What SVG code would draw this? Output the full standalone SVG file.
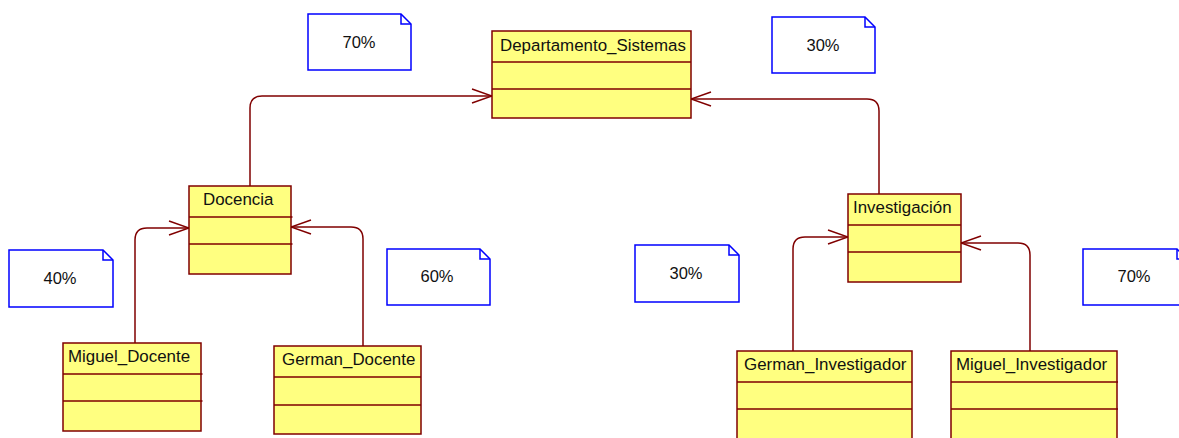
<svg xmlns="http://www.w3.org/2000/svg" width="1179" height="438" viewBox="0 0 1179 438">
<style>
.cls{fill:#FFFF80;stroke:#800000;stroke-width:1.5}
.div{stroke:#800000;stroke-width:1.5;fill:none}
.t{font-family:"Liberation Sans",Arial,sans-serif;font-size:16.9px;fill:#111}
.note{fill:#fff;stroke:#0000FF;stroke-width:1.5}
.fold{fill:none;stroke:#0000FF;stroke-width:1.5}
.nt{font-family:"Liberation Sans",Arial,sans-serif;font-size:16.5px;fill:#111;text-anchor:middle}
.con{fill:none;stroke:#800000;stroke-width:1.5}
</style>
<defs>
<marker id="arr" markerUnits="userSpaceOnUse" viewBox="-22 -9 24 18" refX="0" refY="0" markerWidth="24" markerHeight="18" orient="auto">
<path d="M-20,-7 L0,0 L-20,7" fill="none" stroke="#800000" stroke-width="1.5"/>
</marker>
</defs>
<rect width="1179" height="438" fill="#fff"/>
<g id="connectors">
<path class="con" marker-end="url(#arr)" d="M250,186 V108 Q250,96 262,96 H492"/>
<path class="con" marker-end="url(#arr)" d="M879,194 V111 Q879,99 867,99 H691"/>
<path class="con" marker-end="url(#arr)" d="M135,343 V240 Q135,228 147,228 H189"/>
<path class="con" marker-end="url(#arr)" d="M363,346 V239 Q363,227 351,227 H291"/>
<path class="con" marker-end="url(#arr)" d="M793,351 V249 Q793,237 805,237 H848"/>
<path class="con" marker-end="url(#arr)" d="M1030,351 V255 Q1030,243 1018,243 H961"/>
</g>
<g id="Departamento_Sistemas">
<rect class="cls" x="492" y="31" width="199" height="87"/>
<path class="div" d="M492,62 H691 M492,89 H691"/>
<text class="t" x="500" y="51">Departamento_Sistemas</text>
</g>
<g id="Docencia">
<rect class="cls" x="189" y="186" width="102" height="88"/>
<path class="div" d="M189,217 H292.5 M189,244 H292.5"/>
<text class="t" x="203" y="205">Docencia</text>
</g>
<g id="Miguel_Docente">
<rect class="cls" x="63" y="343" width="138" height="88"/>
<path class="div" d="M63,374 H202.5 M63,401 H202.5"/>
<text class="t" x="68" y="362">Miguel_Docente</text>
</g>
<g id="German_Docente">
<rect class="cls" x="274" y="346" width="147" height="88"/>
<path class="div" d="M274,377 H421 M274,405 H421"/>
<text class="t" x="282" y="365">German_Docente</text>
</g>
<g id="Investigacion">
<rect class="cls" x="848" y="194" width="113" height="88"/>
<path class="div" d="M848,225 H961 M848,252 H961"/>
<text class="t" x="853" y="213">Investigación</text>
</g>
<g id="German_Investigador">
<rect class="cls" x="737" y="351" width="175" height="100"/>
<path class="div" d="M737,382 H912 M737,409 H912"/>
<text class="t" x="744" y="370">German_Investigador</text>
</g>
<g id="Miguel_Investigador">
<rect class="cls" x="951" y="351" width="166" height="100"/>
<path class="div" d="M951,382 H1118 M951,409 H1118"/>
<text class="t" x="956" y="370">Miguel_Investigador</text>
</g>
<g id="note70a">
<path class="note" d="M308,14 H401 L411,24 V70 H308 Z"/>
<path class="fold" d="M401,14 V24 H411"/>
<text class="nt" x="359" y="48">70%</text>
</g>
<g id="note30a">
<path class="note" d="M772,17 H865 L875,27 V73 H772 Z"/>
<path class="fold" d="M865,17 V27 H875"/>
<text class="nt" x="823" y="51">30%</text>
</g>
<g id="note40">
<path class="note" d="M9,250 H103 L113,260 V307 H9 Z"/>
<path class="fold" d="M103,250 V260 H113"/>
<text class="nt" x="60" y="284">40%</text>
</g>
<g id="note60">
<path class="note" d="M387,249 H480 L490,259 V305 H387 Z"/>
<path class="fold" d="M480,249 V259 H490"/>
<text class="nt" x="437" y="282">60%</text>
</g>
<g id="note30b">
<path class="note" d="M635,245 H729 L739,255 V302 H635 Z"/>
<path class="fold" d="M729,245 V255 H739"/>
<text class="nt" x="686" y="279">30%</text>
</g>
<g id="note70b">
<path class="note" d="M1083,249 H1177 L1187,259 V305 H1083 Z"/>
<path class="fold" d="M1177,249 V259 H1187"/>
<text class="nt" x="1134" y="282">70%</text>
</g>
</svg>
